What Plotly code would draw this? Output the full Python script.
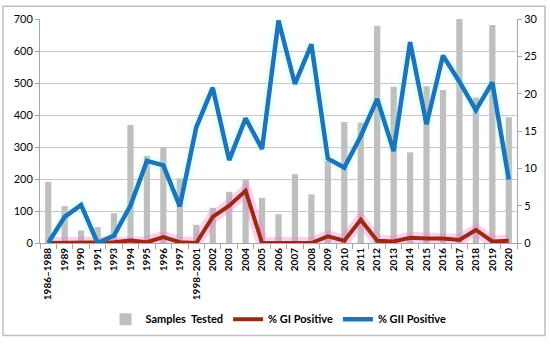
import plotly.graph_objects as go

categories = ["1986\u20131988", "1989", "1990", "1991", "1993", "1994", "1995", "1996", "1997",
              "1998\u20132001", "2002", "2003", "2004", "2005", "2006", "2007", "2008", "2009",
              "2010", "2011", "2012", "2013", "2014", "2015", "2016", "2017", "2018", "2019", "2020"]
samples_tested = [191, 115, 39, 50, 93, 369, 272, 300, 202, 57, 110, 160, 199, 141, 90, 215, 152,
                  256, 378, 376, 679, 488, 283, 490, 478, 700, 455, 681, 393]
gi_positive = [0, 0, 0, 0, 0.1, 0.35, 0.1, 0.8, 0.1, 0, 3.5, 5.0, 7.0, 0, 0, 0, 0, 0.9, 0.3, 3.1,
               0.3, 0.2, 0.7, 0.6, 0.6, 0.4, 1.75, 0.2, 0.3]
gii_positive = [0, 3.5, 5.1, 0, 1.0, 5.0, 11.0, 10.4, 4.9, 15.5, 20.8, 11.1, 16.7, 12.6, 29.8,
                21.3, 26.6, 11.3, 10.1, 14.3, 19.3, 12.3, 26.9, 15.9, 25.1, 21.6, 17.8, 21.5, 8.5]

font_family = "Lato, 'Open Sans', Arial, sans-serif"

fig = go.Figure()
fig.add_trace(go.Bar(x=categories, y=samples_tested, name="Samples  Tested",
                     marker=dict(color="#BFBFBF", line=dict(width=0)), yaxis="y"))
# glow lines
fig.add_trace(go.Scatter(x=categories, y=gi_positive, mode="lines", yaxis="y2",
                         line=dict(color="rgba(255,120,200,0.35)", width=12),
                         showlegend=False, hoverinfo="skip"))
fig.add_trace(go.Scatter(x=categories, y=gii_positive, mode="lines", yaxis="y2",
                         line=dict(color="rgba(120,255,255,0.15)", width=12),
                         showlegend=False, hoverinfo="skip"))
fig.add_trace(go.Scatter(x=categories, y=gi_positive, mode="lines", name="% GI Positive",
                         yaxis="y2", line=dict(color="#9A2A14", width=4)))
fig.add_trace(go.Scatter(x=categories, y=gii_positive, mode="lines", name="% GII Positive",
                         yaxis="y2", line=dict(color="#1F74B8", width=4.5)))

fig.update_layout(
    width=550, height=346,
    margin=dict(l=40, r=33, t=17, b=99),
    paper_bgcolor="white", plot_bgcolor="white",
    font=dict(family=font_family, size=11, color="#000000"),
    bargap=0.62,
    showlegend=True,
    legend=dict(orientation="h", x=0.5, xanchor="center", y=-0.34, yanchor="middle",
                font=dict(size=11, family=font_family, weight="bold"),
                itemwidth=30, tracegroupgap=0),
    xaxis=dict(type="category", tickangle=-90, tickfont=dict(size=10, weight="bold"),
               showline=True, linecolor="#A6A6A6", linewidth=1,
               ticks="outside", tickson="boundaries", ticklen=5, tickcolor="#A6A6A6",
               showgrid=False, range=[-0.5, len(categories) - 0.5]),
    yaxis=dict(range=[0, 700], dtick=100, showgrid=True, gridcolor="#C8C8C8", gridwidth=1,
               showline=True, linecolor="#A6A6A6", ticks="outside", ticklen=4,
               tickcolor="#A6A6A6", zeroline=False, tickfont=dict(size=11)),
    yaxis2=dict(range=[0, 30], dtick=5, overlaying="y", side="right", showgrid=False,
                showline=True, linecolor="#A6A6A6", ticks="outside", ticklen=4,
                tickcolor="#A6A6A6", zeroline=False, tickfont=dict(size=11)),
    shapes=[dict(type="rect", xref="paper", yref="paper", x0=-0.0776, x1=1.0587,
                 y0=-0.413, y1=1.0565, line=dict(color="#BFBFBF", width=1.5),
                 fillcolor="rgba(0,0,0,0)", layer="below")],
)

fig.write_html("out.html", config={"displayModeBar": False},
               post_script="document.body.style.margin='0px';")
